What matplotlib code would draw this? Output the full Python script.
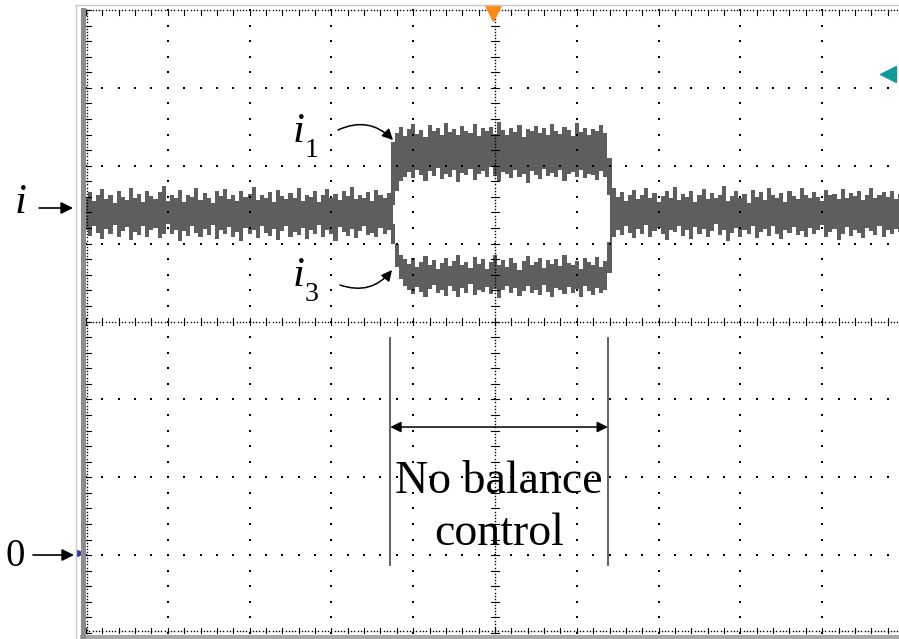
import numpy as np
import matplotlib
matplotlib.use("Agg")
import matplotlib.pyplot as plt
from matplotlib.lines import Line2D
from matplotlib.patches import Rectangle

plt.rcParams['font.family'] = ['Liberation Serif', 'DejaVu Serif']

W, H = 899, 639
TRACE = '#5e5e5e'

# scope screen: 10 x 8 divisions, trace sampled every 0.05 div
n_div_x, n_div_y = 10, 8
t = np.linspace(0, 10, 201)

# envelope of the trace (divisions) - before, during and after the unbalanced interval
top_left = [5.58, 5.66, 5.55, 5.62, 5.70, 5.57, 5.63, 5.52, 5.67, 5.60,
            5.56, 5.71, 5.59, 5.64, 5.53, 5.68, 5.61, 5.57, 5.66, 5.74,
            5.55, 5.62, 5.58, 5.69, 5.54, 5.63, 5.60, 5.72, 5.56, 5.65,
            5.59, 5.52, 5.67, 5.61, 5.70, 5.57, 5.63, 5.55, 5.68, 5.60,
            5.64, 5.73, 5.56, 5.62, 5.58, 5.66, 5.53, 5.69, 5.61, 5.57,
            5.65, 5.59, 5.71, 5.55, 5.63, 5.60, 5.67, 5.54, 5.62, 5.70,
            5.58, 5.64, 5.56, 5.68, 5.61, 5.73, 5.57, 5.63, 5.59, 5.66,
            5.55, 5.69, 5.62, 5.58, 5.65]
bot_left = [5.18, 5.10, 5.22, 5.14, 5.06, 5.19, 5.12, 5.24, 5.08, 5.16,
            5.21, 5.05, 5.15, 5.11, 5.23, 5.09, 5.17, 5.20, 5.07, 5.13,
            5.25, 5.12, 5.18, 5.04, 5.16, 5.10, 5.22, 5.14, 5.08, 5.19,
            5.11, 5.24, 5.06, 5.17, 5.13, 5.21, 5.09, 5.15, 5.03, 5.20,
            5.12, 5.18, 5.07, 5.23, 5.14, 5.10, 5.19, 5.05, 5.16, 5.22,
            5.09, 5.15, 5.11, 5.20, 5.06, 5.17, 5.13, 5.24, 5.08, 5.18,
            5.12, 5.04, 5.21, 5.15, 5.10, 5.19, 5.07, 5.16, 5.22, 5.11,
            5.14, 5.08, 5.20, 5.13, 5.17]

# i1 upper edge / i3 lower edge while balance control is off
top_mid = [6.30,
           6.42, 6.50, 6.38, 6.47, 6.53, 6.41, 6.46, 6.37, 6.52, 6.44,
           6.49, 6.40, 6.55, 6.43, 6.47, 6.39, 6.51, 6.45, 6.42, 6.54,
           6.38, 6.48, 6.44, 6.50, 6.41, 6.56, 6.46, 6.40, 6.49, 6.43,
           6.52, 6.37, 6.47, 6.44, 6.51, 6.42, 6.48, 6.39, 6.53, 6.45,
           6.41, 6.50, 6.46, 6.38, 6.55, 6.43, 6.49, 6.40, 6.47, 6.44,
           6.52, 6.42,
           6.10]
bot_mid = [5.00, 4.70, 4.55, 4.46,
           4.41, 4.35, 4.44, 4.38, 4.32, 4.42, 4.47, 4.36, 4.40, 4.33,
           4.45, 4.39, 4.31, 4.43, 4.37, 4.48, 4.34, 4.41, 4.38, 4.44,
           4.35, 4.42, 4.30, 4.40, 4.46, 4.37, 4.43, 4.33, 4.39, 4.45,
           4.36, 4.41, 4.34, 4.47, 4.38, 4.32, 4.43, 4.40, 4.35, 4.44,
           4.37, 4.42, 4.31, 4.46, 4.39, 4.34, 4.43, 4.36, 4.41,
           4.62]

top_right = [5.72,
             5.60, 5.66, 5.55, 5.63, 5.69, 5.57, 5.62, 5.71, 5.58, 5.65,
             5.54, 5.61, 5.67, 5.59, 5.73, 5.56, 5.64, 5.60, 5.68, 5.53,
             5.62, 5.70, 5.57, 5.65, 5.59, 5.63, 5.74, 5.55, 5.61, 5.67,
             5.58, 5.64, 5.52, 5.69, 5.60, 5.66, 5.56, 5.71, 5.62, 5.59,
             5.65, 5.54, 5.68, 5.61, 5.57, 5.72, 5.63, 5.58, 5.66, 5.60,
             5.55, 5.69, 5.62, 5.64, 5.57, 5.70, 5.59, 5.65, 5.61, 5.67,
             5.56, 5.63, 5.71, 5.58, 5.62, 5.66, 5.60, 5.68, 5.57, 5.64,
             5.61]
bot_right = [5.08,
             5.17, 5.11, 5.22, 5.14, 5.07, 5.19, 5.13, 5.24, 5.09, 5.16,
             5.20, 5.12, 5.05, 5.18, 5.15, 5.23, 5.10, 5.17, 5.06, 5.21,
             5.13, 5.19, 5.08, 5.16, 5.25, 5.11, 5.18, 5.04, 5.14, 5.20,
             5.09, 5.17, 5.12, 5.22, 5.07, 5.15, 5.19, 5.10, 5.23, 5.13,
             5.06, 5.18, 5.14, 5.21, 5.11, 5.16, 5.08, 5.20, 5.12, 5.17,
             5.24, 5.09, 5.15, 5.19, 5.05, 5.13, 5.21, 5.10, 5.18, 5.14,
             5.07, 5.20, 5.16, 5.11, 5.23, 5.08, 5.17, 5.13, 5.19, 5.15,
             5.12]

# gap between i1 (lower edge) and i3 (upper edge)
hole_top = [5.50, 5.68, 5.80, 5.86,
            5.92, 5.84, 5.95, 5.88, 5.80, 5.93, 5.87, 5.97, 5.83, 5.90,
            5.86, 5.94, 5.79, 5.91, 5.88, 5.96, 5.82, 5.89, 5.93, 5.85,
            5.98, 5.87, 5.81, 5.92, 5.89, 5.84, 5.95, 5.86, 5.90, 5.78,
            5.93, 5.88, 5.83, 5.96, 5.87, 5.91, 5.85, 5.94, 5.80, 5.89,
            5.92, 5.86, 5.95, 5.84, 5.90, 5.88, 5.82, 5.93,
            5.85, 5.62, 5.40]
hole_bot = [5.25, 5.00, 4.86, 4.80,
            4.74, 4.81, 4.70, 4.77, 4.84, 4.72, 4.79, 4.67, 4.75, 4.82,
            4.71, 4.78, 4.86, 4.73, 4.76, 4.69, 4.83, 4.74, 4.80, 4.68,
            4.77, 4.85, 4.72, 4.79, 4.70, 4.81, 4.75, 4.66, 4.78, 4.84,
            4.73, 4.76, 4.82, 4.69, 4.79, 4.74, 4.80, 4.71, 4.85, 4.75,
            4.72, 4.78, 4.67, 4.81, 4.76, 4.73, 4.83, 4.70,
            4.78, 5.02, 5.40]
hole_start = 75

# interval with balance control switched off (div)
off_start, off_end = 3.72, 6.38


def fx(px):
    return px / W


def fy(py):
    return 1 - py / H


fig = plt.figure(figsize=(W / 100, H / 100), dpi=100)
ax = fig.add_axes([fx(86), 6 / H, 818 / W, 623 / H])
ax.set_xlim(0, n_div_x)
ax.set_ylim(0, n_div_y)
ax.axis('off')

# trace
upper = np.array(top_left + top_mid + top_right)
lower = np.array(bot_left + bot_mid + bot_right)
ax.fill_between(t, lower, upper, step='mid', color=TRACE, lw=0, zorder=2)
th = t[hole_start:hole_start + len(hole_top)]
ht, hb = np.array(hole_top), np.array(hole_bot)
ax.fill_between(th, hb, ht, where=ht > hb, step='mid', color='white', lw=0, zorder=2.5)

# graticule
dot = dict(ls='none', marker='s', ms=1.6, mew=0, color='black', zorder=4, clip_on=False)
ys = np.arange(0, n_div_y + 0.001, 0.2)
xs = np.arange(0, n_div_x + 0.001, 0.2)
for gx in range(1, n_div_x):
    if gx != 5:
        ax.plot(np.full_like(ys, gx), ys, **dot)
for gy in range(1, n_div_y):
    if gy != 4:
        ax.plot(xs, np.full_like(xs, gy), **dot)

fine = dict(ls='none', marker='s', ms=1.0, mew=0, color='black', zorder=4, clip_on=False)
ys_f = np.arange(0, n_div_y + 0.001, 0.04)
xs_f = np.arange(0, n_div_x + 0.001, 0.04)
ax.plot(np.full_like(ys_f, 5), ys_f, **fine)
ax.plot(xs_f, np.full_like(xs_f, 4), **fine)
ax.plot(xs_f, np.full_like(xs_f, n_div_y), **fine)
ax.plot(xs_f, np.full_like(xs_f, 0.02), **fine)
ax.plot(np.full_like(ys_f, 0.01), ys_f, **fine)

tick = dict(color='black', lw=0.8, zorder=4, clip_on=False)
for y in ys:
    ax.plot([4.95, 5.05], [y, y], **tick)
    ax.plot([0, 0.06], [y, y], **tick)
for x in xs:
    ax.plot([x, x], [3.95, 4.05], **tick)
    ax.plot([x, x], [n_div_y, n_div_y - 0.06], **tick)
    ax.plot([x, x], [0, 0.06], **tick)

# screen frame
fig.add_artist(Line2D([fx(82.5), fx(82.5)], [fy(10), fy(639)], color='#8c8c8c', lw=3.6))
fig.add_artist(Line2D([fx(76), fx(76)], [fy(5), fy(639)], color='#c8c8c8', lw=1))
fig.add_artist(Line2D([fx(76), 1], [fy(5), fy(5)], color='#c8c8c8', lw=1))
fig.add_artist(Rectangle((fx(80), 0), 1, 4 / H, transform=fig.transFigure,
                         color='#a8a8a8', lw=0))

# channel / trigger markers
ax.plot(4.975, 7.96, marker='v', ms=12, color='#ff8a1c', mec='#ff8a1c', clip_on=False, zorder=5)
ax.plot(9.80, 7.18, marker='<', ms=11, color='#14999a', mec='#14999a', clip_on=False, zorder=5)
ax.plot(-0.07, 1.03, marker='>', ms=5, color='#2a3aa8', mec='#2a3aa8', clip_on=False, zorder=5)

# labels on the left
fig.text(fx(21), fy(213), 'i', style='italic', fontsize=31, ha='center', va='baseline')
fig.text(fx(15), fy(566), '0', fontsize=28, ha='center', va='baseline')
arr = dict(arrowstyle='-|>', color='black', lw=1.2, mutation_scale=18,
           shrinkA=0, shrinkB=0)
ax.annotate('', xy=(fx(73), fy(208)), xytext=(fx(39), fy(208)),
            xycoords='figure fraction', textcoords='figure fraction', arrowprops=arr)
ax.annotate('', xy=(fx(74), fy(555)), xytext=(fx(33), fy(555)),
            xycoords='figure fraction', textcoords='figure fraction', arrowprops=arr)

# i1 / i3 labels with curved arrows
fig.text(fx(299), fy(142), 'i', style='italic', fontsize=31, ha='center', va='baseline')
fig.text(fx(312), fy(157), '1', fontsize=20, ha='center', va='baseline')
fig.text(fx(299), fy(286), 'i', style='italic', fontsize=31, ha='center', va='baseline')
fig.text(fx(312), fy(301), '3', fontsize=20, ha='center', va='baseline')
carr = dict(arr, lw=1.1, mutation_scale=16)
ax.annotate('', xy=(fx(393), fy(140)), xytext=(fx(338), fy(130)),
            xycoords='figure fraction', textcoords='figure fraction',
            arrowprops=dict(carr, connectionstyle='arc3,rad=-0.35'))
ax.annotate('', xy=(fx(392), fy(270)), xytext=(fx(340), fy(285)),
            xycoords='figure fraction', textcoords='figure fraction',
            arrowprops=dict(carr, connectionstyle='arc3,rad=0.35'))

# no-balance interval
ax.plot([off_start, off_start], [0.87, 3.79], color='#555555', lw=1.3, zorder=5)
ax.plot([off_end, off_end], [0.87, 3.79], color='#555555', lw=1.3, zorder=5)
ax.annotate('', xy=(off_start, 2.645), xytext=(off_end, 2.645),
            arrowprops=dict(arrowstyle='<|-|>', color='black', lw=1.1,
                            mutation_scale=16, shrinkA=0, shrinkB=0), zorder=5)
ax.text((off_start + off_end) / 2, 1.80, 'No balance', fontsize=33,
        ha='center', va='baseline', zorder=6)
ax.text((off_start + off_end) / 2, 1.13, 'control', fontsize=33,
        ha='center', va='baseline', zorder=6)

fig.savefig('out.png', dpi=100)
